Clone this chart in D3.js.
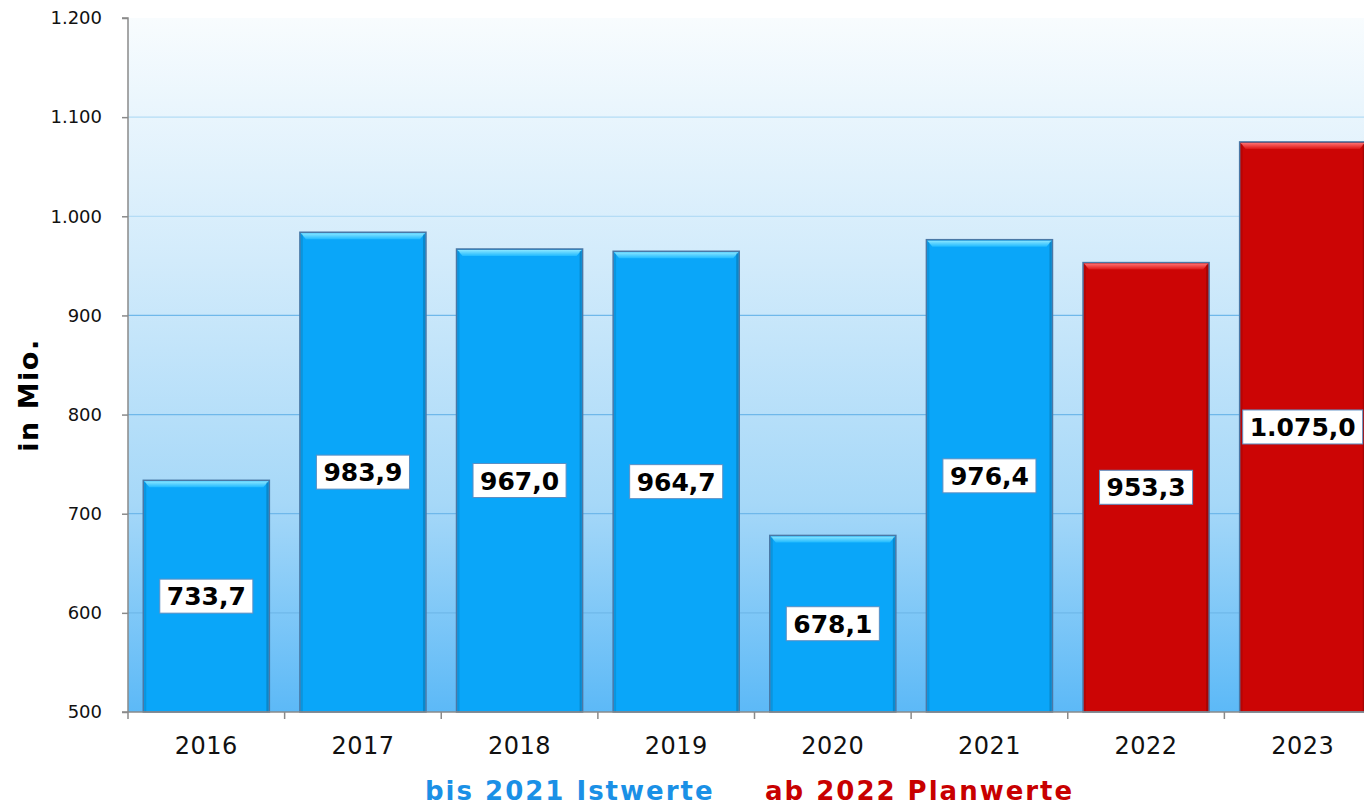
<!DOCTYPE html>
<html><head><meta charset="utf-8">
<script src="https://cdn.jsdelivr.net/npm/d3@7"></script>
<style>html,body{margin:0;padding:0;background:#fff;overflow:hidden}svg{display:block}</style>
</head><body>
<svg id="c" width="1364" height="806"></svg>
<script>
const years = ["2016","2017","2018","2019","2020","2021","2022","2023"];
const values = [733.7, 983.9, 967.0, 964.7, 678.1, 976.4, 953.3, 1075.0];
const kinds = ["ist","ist","ist","ist","ist","ist","plan","plan"];
const yTicks = [500,600,700,800,900,1000,1100,1200];
const legendItems = ["bis 2021 Istwerte","ab 2022 Planwerte"];
const axisTitle = "in Mio.";

const de = d3.formatLocale({decimal:",", thousands:".", grouping:[3], currency:["","€"]});
const fmtTick = de.format(",.0f");
const fmtVal = de.format(",.1f");
const FONT = "DejaVu Sans, Verdana, sans-serif";

const svg = d3.select("#c");
const m = {left:128, top:18, bottom:712};
const plotRight = 1381;
const x = d3.scaleBand().domain(years).range([m.left, plotRight]).paddingInner(0.195).paddingOuter(0.0975);
const y = d3.scaleLinear().domain([500,1200]).range([m.bottom, m.top]);

const defs = svg.append("defs");
const bg = defs.append("linearGradient").attr("id","bg").attr("x1",0).attr("y1",0).attr("x2",0).attr("y2",1);
bg.append("stop").attr("offset","0%").attr("stop-color","#f8fcfe");
bg.append("stop").attr("offset","35%").attr("stop-color","#d2ebfb");
bg.append("stop").attr("offset","70%").attr("stop-color","#a6d8f8");
bg.append("stop").attr("offset","100%").attr("stop-color","#5cb9f7");

const colors = {ist:"#0aa6f9", plan:"#cc0505"};
const tops = {ist:["#8ae6ff","#20baff"], plan:["#ff7070","#dc1414"]};
const strokes = {ist:"#4a78a6", plan:"#4a78a6"};
["ist","plan"].forEach(k=>{
  const g = defs.append("linearGradient").attr("id","top-"+k).attr("x1",0).attr("y1",0).attr("x2",0).attr("y2",1);
  g.append("stop").attr("offset","0%").attr("stop-color",tops[k][0]);
  g.append("stop").attr("offset","100%").attr("stop-color",tops[k][1]);
});

svg.append("rect").attr("x",m.left).attr("y",m.top).attr("width",plotRight-m.left).attr("height",m.bottom-m.top).attr("fill","url(#bg)");

// gridlines
svg.append("g").selectAll("line").data(yTicks.filter(t=>t>500 && t<1200)).join("line")
  .attr("x1",m.left).attr("x2",plotRight).attr("y1",d=>y(d)).attr("y2",d=>y(d))
  .attr("stroke",d=>d>=1000?"#b4dcf5":"#6fb8ea").attr("stroke-width",1.2);

// bars
const bars = svg.append("g").selectAll("g").data(years).join("g");
bars.append("rect")
  .attr("x",d=>x(d)).attr("width",x.bandwidth())
  .attr("y",(d,i)=>y(values[i])).attr("height",(d,i)=>y(500)-y(values[i]))
  .attr("fill",(d,i)=>colors[kinds[i]]).attr("stroke",(d,i)=>strokes[kinds[i]]).attr("stroke-width",1.5);
bars.append("path")
  .attr("d",(d,i)=>{const x0=x(d)+1, x1=x(d)+x.bandwidth()-1, t=y(values[i])+1; return `M${x0},${t}L${x1},${t}L${x1-5},${t+6}L${x0+5},${t+6}Z`;})
  .attr("fill",(d,i)=>`url(#top-${kinds[i]})`);
bars.append("rect").attr("x",d=>x(d)+1).attr("width",2)
  .attr("y",(d,i)=>y(values[i])+2).attr("height",(d,i)=>y(500)-y(values[i])-2)
  .attr("fill","#000").attr("opacity",0.1);
bars.append("rect").attr("x",d=>x(d)+x.bandwidth()-3).attr("width",2)
  .attr("y",(d,i)=>y(values[i])+2).attr("height",(d,i)=>y(500)-y(values[i])-2)
  .attr("fill","#000").attr("opacity",0.18);

// value labels
const lab = svg.append("g").selectAll("g").data(years).join("g")
  .attr("transform",(d,i)=>`translate(${x(d)+x.bandwidth()/2},${(y(values[i])+y(500))/2})`);
lab.append("text").attr("text-anchor","middle").attr("dy","0.36em")
  .attr("font-family",FONT).attr("font-weight","bold").attr("font-size",25)
  .attr("fill","#000").text((d,i)=>fmtVal(values[i]));
lab.each(function(){
  const g=d3.select(this), t=g.select("text"), w=t.node().getComputedTextLength();
  g.insert("rect","text").attr("x",-w/2-7).attr("y",-17).attr("width",w+14).attr("height",34)
   .attr("fill","#fff").attr("stroke","#5b8fc4").attr("stroke-width",1);
});

// axes
const yAxis = svg.append("g").attr("transform",`translate(${m.left},0)`)
  .call(d3.axisLeft(y).tickValues(yTicks).tickFormat(fmtTick).tickSize(6).tickPadding(20));
yAxis.select(".domain").attr("stroke","#8a8a8a").attr("stroke-width",1.5).attr("d",`M-6,${m.top}H0V${m.bottom}`);
yAxis.selectAll(".tick line").attr("stroke","#8a8a8a").attr("stroke-width",1.5);
yAxis.selectAll("text").attr("font-family",FONT).attr("font-size",18).attr("fill","#111");

const xg = svg.append("g");
xg.append("line").attr("x1",m.left-6).attr("x2",plotRight).attr("y1",m.bottom).attr("y2",m.bottom).attr("stroke","#8a8a8a").attr("stroke-width",1.5);
xg.selectAll(".bt").data(d3.range(years.length+1)).join("line")
  .attr("x1",i=>m.left+i*x.step()).attr("x2",i=>m.left+i*x.step())
  .attr("y1",m.bottom).attr("y2",m.bottom+7).attr("stroke","#8a8a8a").attr("stroke-width",1.5);
xg.selectAll("text").data(years).join("text")
  .attr("x",d=>x(d)+x.bandwidth()/2).attr("y",754).attr("text-anchor","middle")
  .attr("font-family",FONT).attr("font-size",24).attr("letter-spacing",0.5).attr("fill","#111").text(d=>d);

svg.append("text").attr("transform",`translate(38,395) rotate(-90)`).attr("text-anchor","middle")
  .attr("font-family",FONT).attr("font-weight","bold").attr("font-size",27).attr("letter-spacing",1.5).attr("fill","#000").text(axisTitle);

// legend
svg.append("text").attr("x",425).attr("y",800)
  .attr("font-family",FONT).attr("font-weight","bold").attr("font-size",26).attr("letter-spacing",2)
  .attr("fill","#1a90e6").text(legendItems[0]);
svg.append("text").attr("x",765).attr("y",800)
  .attr("font-family",FONT).attr("font-weight","bold").attr("font-size",26).attr("letter-spacing",2)
  .attr("fill","#c80000").text(legendItems[1]);
</script>
</body></html>
